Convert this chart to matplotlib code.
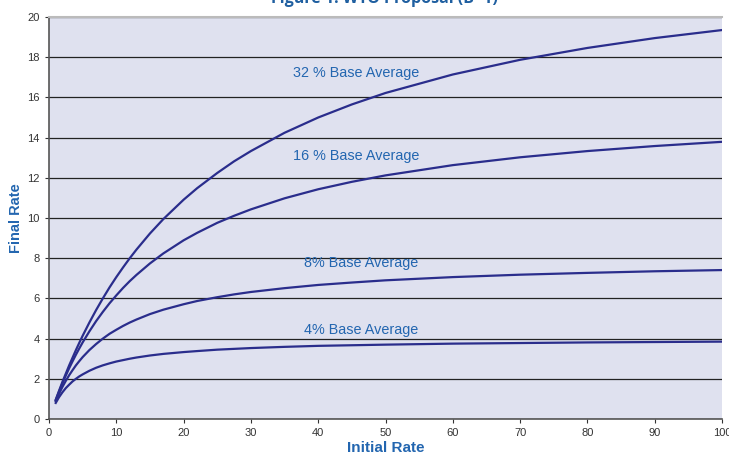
import matplotlib
matplotlib.use("Agg")
import matplotlib.pyplot as plt

# Initial rate sample points and final rates read for each base average
initial_rate = [1, 1.5, 2, 2.5, 3, 3.5, 4, 4.5, 5, 6, 7, 8, 9, 10, 11, 12,
                13, 15, 17, 20, 22, 25, 27.5, 30, 35, 40, 45, 50, 60, 70, 80,
                90, 100]
final_32 = [0.96, 1.41, 1.85, 2.26, 2.67, 3.05, 3.43, 3.79, 4.14, 4.80, 5.42,
            6.00, 6.55, 7.06, 7.54, 8.00, 8.43, 9.23, 9.95, 10.91, 11.48,
            12.24, 12.82, 13.33, 14.24, 15.00, 15.65, 16.22, 17.14, 17.87,
            18.46, 18.95, 19.35]
final_16 = [0.94, 1.37, 1.78, 2.16, 2.53, 2.87, 3.20, 3.51, 3.81, 4.36, 4.87,
            5.33, 5.76, 6.15, 6.52, 6.86, 7.17, 7.74, 8.24, 8.89, 9.26, 9.76,
            10.11, 10.43, 10.98, 11.43, 11.80, 12.12, 12.63, 13.02, 13.33,
            13.58, 13.79]
final_8 = [0.89, 1.26, 1.60, 1.90, 2.18, 2.43, 2.67, 2.88, 3.08, 3.43, 3.73,
           4.00, 4.24, 4.44, 4.63, 4.80, 4.95, 5.22, 5.44, 5.71, 5.87, 6.06,
           6.20, 6.32, 6.51, 6.67, 6.79, 6.90, 7.06, 7.18, 7.27, 7.35, 7.41]
final_4 = [0.80, 1.09, 1.33, 1.54, 1.71, 1.87, 2.00, 2.12, 2.22, 2.40, 2.55,
           2.67, 2.77, 2.86, 2.93, 3.00, 3.06, 3.16, 3.24, 3.33, 3.38, 3.45,
           3.49, 3.53, 3.59, 3.64, 3.67, 3.70, 3.75, 3.78, 3.81, 3.83, 3.85]

series = [final_32, final_16, final_8, final_4]
labels = ["32 % Base Average", "16 % Base Average",
          "8% Base Average", "4% Base Average"]
label_pos = [(45.6, 17.2), (45.6, 13.1), (46.3, 7.75), (46.4, 4.45)]

plt.rcParams['font.family'] = ['Liberation Sans', 'DejaVu Sans']

line_color = '#2a2d8c'
text_color = '#2366b0'

fig = plt.figure(figsize=(7.29, 4.59), dpi=100)
ax = fig.add_axes([0.0672, 0.0871, 0.9233, 0.8759])
ax.set_facecolor('#dfe1ef')

for ys in series:
    ax.plot(initial_rate, ys, color=line_color, linewidth=1.6,
            solid_joinstyle='round', zorder=3)

for text, (x, y) in zip(labels, label_pos):
    ax.text(x, y, text, color=text_color, fontsize=10.4,
            ha='center', va='center', zorder=4)

ax.set_xlim(0, 100)
ax.set_ylim(0, 20)
ax.set_xticks(range(0, 101, 10))
ax.set_yticks(range(0, 21, 2))
ax.tick_params(labelsize=8, colors='#333333', length=3, width=0.8,
               direction='out')
ax.yaxis.grid(True, color='#222222', linewidth=0.9)
ax.set_axisbelow(True)

for side in ['left', 'bottom']:
    ax.spines[side].set_color('#555555')
    ax.spines[side].set_linewidth(1.2)
ax.spines['top'].set_color('#bbbbbb')
ax.spines['top'].set_linewidth(1.5)
ax.spines['right'].set_visible(False)

ax.set_xlabel("Initial Rate", fontsize=11, fontweight='bold',
              color=text_color, labelpad=2)
ax.set_ylabel("Final Rate", fontsize=10.5, fontweight='bold',
              color=text_color, labelpad=3)

fig.text(0.528, 0.993, "Figure 1: WTO Proposal (B=1)", family='Open Sans',
         fontsize=11.5, fontweight='bold', color='#1f5fa0',
         ha='center', va='baseline')

fig.savefig("out.png", dpi=100)
